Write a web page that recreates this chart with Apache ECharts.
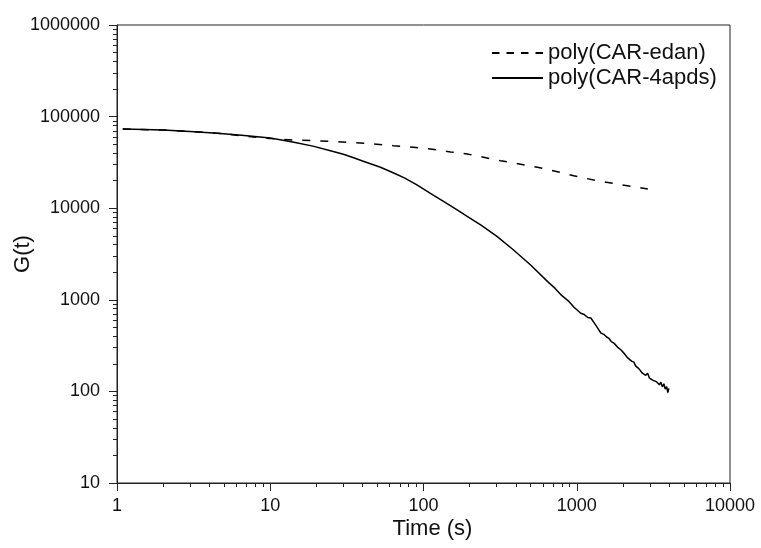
<!DOCTYPE html>
<html>
<head>
<meta charset="utf-8">
<script src="https://cdn.jsdelivr.net/npm/echarts@6/dist/echarts.min.js"></script>
<style>
  html, body { margin: 0; padding: 0; background: #fff; }
  #chart { width: 761px; height: 548px; }
</style>
</head>
<body>
<div id="chart"></div>
<script>
// 数据
const seriesNames = ['poly(CAR-edan)', 'poly(CAR-4apds)'];

const edanTime = [1.09, 2, 4.5, 7, 10, 14.1, 21.2, 31.9, 43.1, 63.7, 86, 111, 150, 193, 319, 430, 553, 748, 955, 1291, 1845, 2911];
const edanG = [73300, 71300, 66000, 61000, 57500, 55500, 54200, 52400, 51100, 48100, 46200, 44300, 41100, 39050, 33000, 30200, 28000, 25000, 22600, 20300, 18300, 16200];

const apdsTime = [1.09, 1.5, 2, 3, 4.5, 6.5, 10, 14, 19, 24.7, 30, 35, 40, 52.4, 65, 75, 90, 111, 135, 160, 195, 236, 300, 387, 500, 646, 720, 800, 880, 960,
  1062, 1120, 1180, 1235, 1300, 1360, 1436, 1500, 1560, 1620, 1680, 1746, 1800, 1870, 1940, 2029, 2090, 2150, 2210, 2280, 2360,
  2420, 2480, 2550, 2620, 2680, 2742, 2820, 2900, 2980, 3060, 3150, 3230, 3300, 3383, 3460, 3540, 3620, 3700, 3780, 3860, 3930, 3992];
const apdsG = [73300, 72400, 71300, 68800, 66000, 62500, 58300, 52800, 47600, 42400, 38800, 35500, 32800, 28000, 23900, 21400, 18100, 14550, 11900, 9950, 8050, 6560, 4950, 3500, 2400, 1578, 1340, 1110, 975, 830,
  713, 690, 640, 632, 560, 500, 434, 420, 395, 380, 350, 337, 320, 298, 285, 262, 255, 232, 228, 214, 209,
  190, 192, 176, 178, 158, 163, 150, 158, 140, 145, 132, 138, 128, 133, 118, 126, 112, 121, 106, 113, 97, 108];

const pair = (xs, ys) => xs.map((x, i) => [x, ys[i]]);

const font = 'Liberation Sans, Arial, sans-serif';
const chart = echarts.init(document.getElementById('chart'));

const logAxis = (extra) => Object.assign({
  type: 'log',
  logBase: 10,
  nameMoveOverlap: false,
  axisLine: { show: true, lineStyle: { color: '#222', width: 1 } },
  axisTick: { show: true, inside: false, length: 8, lineStyle: { color: '#222', width: 1 } },
  minorTick: { show: true, splitNumber: 9, length: 4, lineStyle: { color: '#222', width: 1 } },
  splitLine: { show: false },
  minorSplitLine: { show: false },
  axisLabel: {
    color: '#111', fontSize: 18, fontFamily: font, margin: 17,
    formatter: v => String(v)
  },
  nameTextStyle: { color: '#111', fontSize: 22, fontFamily: font }
}, extra);

chart.setOption({
  animation: false,
  backgroundColor: '#fff',
  grid: {
    left: 117, right: 31, top: 25, bottom: 65,
    containLabel: false, outerBoundsMode: 'none',
    show: true, borderColor: '#222', borderWidth: 1, backgroundColor: 'transparent'
  },
  legend: {
    orient: 'vertical',
    left: 486,
    top: 37,
    itemWidth: 51,
    itemHeight: 14,
    itemGap: 3,
    itemStyle: { opacity: 0 },
    textStyle: { color: '#111', fontSize: 22, fontFamily: font },
    data: [
      { name: seriesNames[0], lineStyle: { type: [7.5, 7] } },
      { name: seriesNames[1] }
    ]
  },
  xAxis: logAxis({
    min: 1, max: 10000,
    axisLabel: { color: '#111', fontSize: 18, fontFamily: font, margin: 14, formatter: v => String(v) },
    name: 'Time (s)', nameLocation: 'middle', nameGap: 35,
    nameTextStyle: { color: '#111', fontSize: 22, fontFamily: font, padding: [0, 0, 0, 18] }
  }),
  yAxis: logAxis({
    min: 10, max: 1000000,
    name: 'G(t)', nameLocation: 'middle', nameGap: 83
  }),
  series: [
    {
      name: seriesNames[0], type: 'line', symbol: 'none',
      lineStyle: { color: '#000', width: 1.5, type: [8, 10] },
      itemStyle: { color: '#000' },
      data: pair(edanTime, edanG)
    },
    {
      name: seriesNames[1], type: 'line', symbol: 'none',
      lineStyle: { color: '#000', width: 1.5 },
      itemStyle: { color: '#000' },
      data: pair(apdsTime, apdsG)
    }
  ]
});
</script>
</body>
</html>
